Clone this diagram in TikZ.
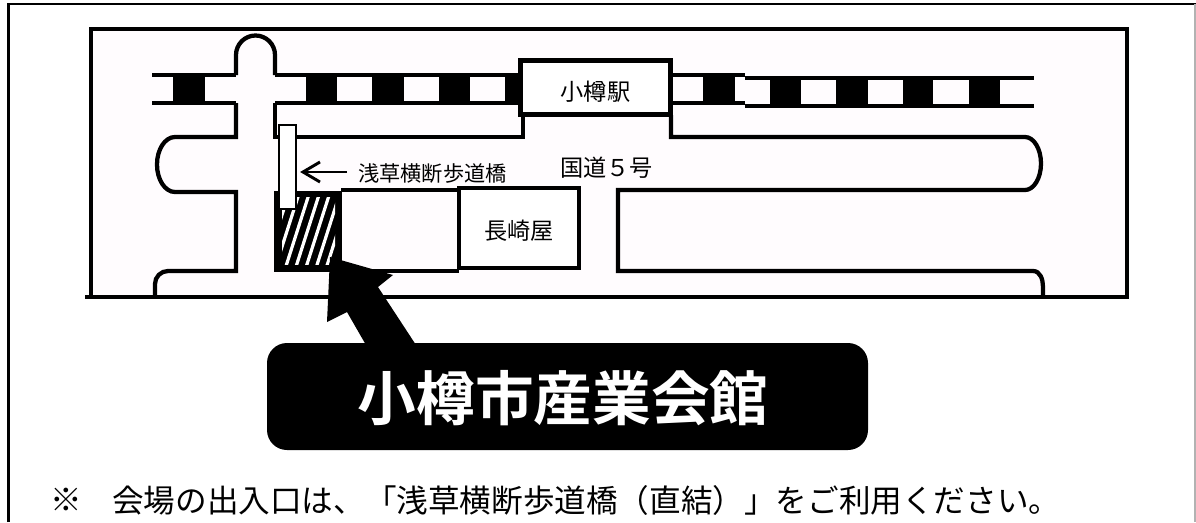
\documentclass[tikz,border=0pt]{standalone}
\usepackage{fontspec}
\newfontfamily\cjk{Noto Sans CJK JP}
\newfontfamily\cjkb{Noto Sans CJK JP Bold}
\tikzset{
  px/.style={x=0.75pt,y=-0.75pt},
  road/.style={draw=black,line width=3.2pt,line join=miter,fill=none},
  rail/.style={draw=black,line width=3.4pt},
  blk/.style={fill=black,draw=none},
  boxn/.style={draw=black,fill=white,line width=3.6pt,inner sep=0pt,font=\cjk},
  lbl/.style={inner sep=0pt,font=\cjk,text=black},
}
\begin{document}
\begin{tikzpicture}[px]
\useasboundingbox (0,0) rectangle (1196,522);
\fill[white] (0,0) rectangle (1196,522);
% outer frame
\draw[line width=2.2pt] (8.5,522) -- (8.5,4) -- (1196,4);
\draw[line width=1pt,black!30] (1195,4) -- (1195,522);
% map frame
\fill[white!99!magenta] (91,29) rectangle (1127,297);
\draw[line width=3.4pt] (91,297) -- (91,29) -- (1127,29) -- (1127,297);
\draw[line width=3.4pt] (85,297) -- (1129,297);
% left rail
\draw[rail] (152,75) -- (236,75) (152,103) -- (236,103);
\fill[blk] (173,75) rectangle (205,103);
% rail between road and station
\draw[rail] (275,75) -- (520,75) (275,103) -- (520,103);
\foreach \a/\b in {306/337,372/404,439/470,505/522}{\fill[blk] (\a,75) rectangle (\b,103);}
% right rail
\draw[rail] (671,75) -- (745,75) (671,103) -- (745,103);
\draw[rail] (745,78) -- (1034,78) (745,106) -- (1034,106);
\fill[blk] (703,75) rectangle (735,103);
\foreach \a/\b in {770/801,836/868,903/933,969/1000}{\fill[blk] (\a,78) rectangle (\b,106);}
% vertical road top
\draw[road] (236,75) -- (236,55) arc[start angle=180,end angle=360,radius=19.5] -- (275,75);
% left road outline
\draw[road] (236,103) -- (236,137) -- (175,137) arc[start angle=270,end angle=90,x radius=18,y radius=27.5] -- (236,192) -- (236,271) -- (168,271) to[out=180,in=90] (155,284) -- (155,297);
% right road outline upper
\draw[road] (275,103) -- (275,137) -- (523,137) -- (523,115);
\draw[road] (671,115) -- (671,137) -- (1025,137) arc[start angle=-90,end angle=90,x radius=16,y radius=26.5] -- (618,190) -- (618,271) -- (1033,271) to[out=0,in=90] (1043,287) -- (1043,297);
% lower block lines
\draw[line width=2.4pt] (341,190) -- (459,190) (341,271) -- (459,271);
% hatched block
\fill[black] (274,191) rectangle (342,272);
\begin{scope}
  \clip (282,197) rectangle (335,264);
  \fill[black] (282,197) rectangle (335,264);
  \foreach \i in {0,...,9}{
    \draw[white,line width=2.4pt] ({265+\i*10.2},268) -- ({265+\i*10.2+24},193);
  }
\end{scope}
% bridge
\node[draw=black,fill=white,line width=1.3pt,minimum width=12.8pt,minimum height=63pt,inner sep=0pt] (bridge) at (287.5,167) {};
% bridge pointer
\node[lbl,font=\cjk\fontsize{15.9pt}{15.9pt}\selectfont,anchor=west] (blabel) at (358,174) {浅草横断歩道橋};
\coordinate (ptail) at (347,172);
\coordinate (ptip) at (303,172);
\draw[line width=2.2pt] (ptail) -- (ptip);
\draw[line width=2.2pt] (320,162) -- (ptip) -- (320,182);
% station
\node[boxn,minimum width=113pt,minimum height=41pt] (station) at (595.5,87.5) {};
\node[lbl,font=\cjk\fontsize{17.4pt}{17.4pt}\selectfont] (stationl) at (595.5,92) {小樽駅};
% nagasakiya
\node[boxn,minimum width=90pt,minimum height=60pt] (naga) at (519,228) {};
\node[lbl,font=\cjk\fontsize{17.4pt}{17.4pt}\selectfont] (nagal) at (519,231) {長崎屋};
% kokudo
\node[lbl,font=\cjk\fontsize{17.4pt}{17.4pt}\selectfont,anchor=west] (route) at (560,168) {国道５号};
% big arrow
\fill[black] (330,257) -- (393,275) -- (378,287) -- (416,345) -- (366,345) -- (347,312) -- (327,322) -- cycle;
% caption box
\node[fill=black,rounded corners=15pt,minimum width=450.75pt,minimum height=80.25pt,inner sep=0pt] (title) at (567.5,396.5) {};
\node[lbl,text=white,font=\cjkb\fontsize{44pt}{44pt}\selectfont] (titlel) at (563,398) {小樽市産業会館};
% note
\node[lbl,font=\cjk\fontsize{23.7pt}{23.7pt}\selectfont,anchor=west] (star) at (50,500) {※};
\node[lbl,font=\cjk\fontsize{23.7pt}{23.7pt}\selectfont,anchor=west] (note) at (112,500) {会場の出入口は、「浅草横断歩道橋（直結）」をご利用ください。};
\end{tikzpicture}
\end{document}
